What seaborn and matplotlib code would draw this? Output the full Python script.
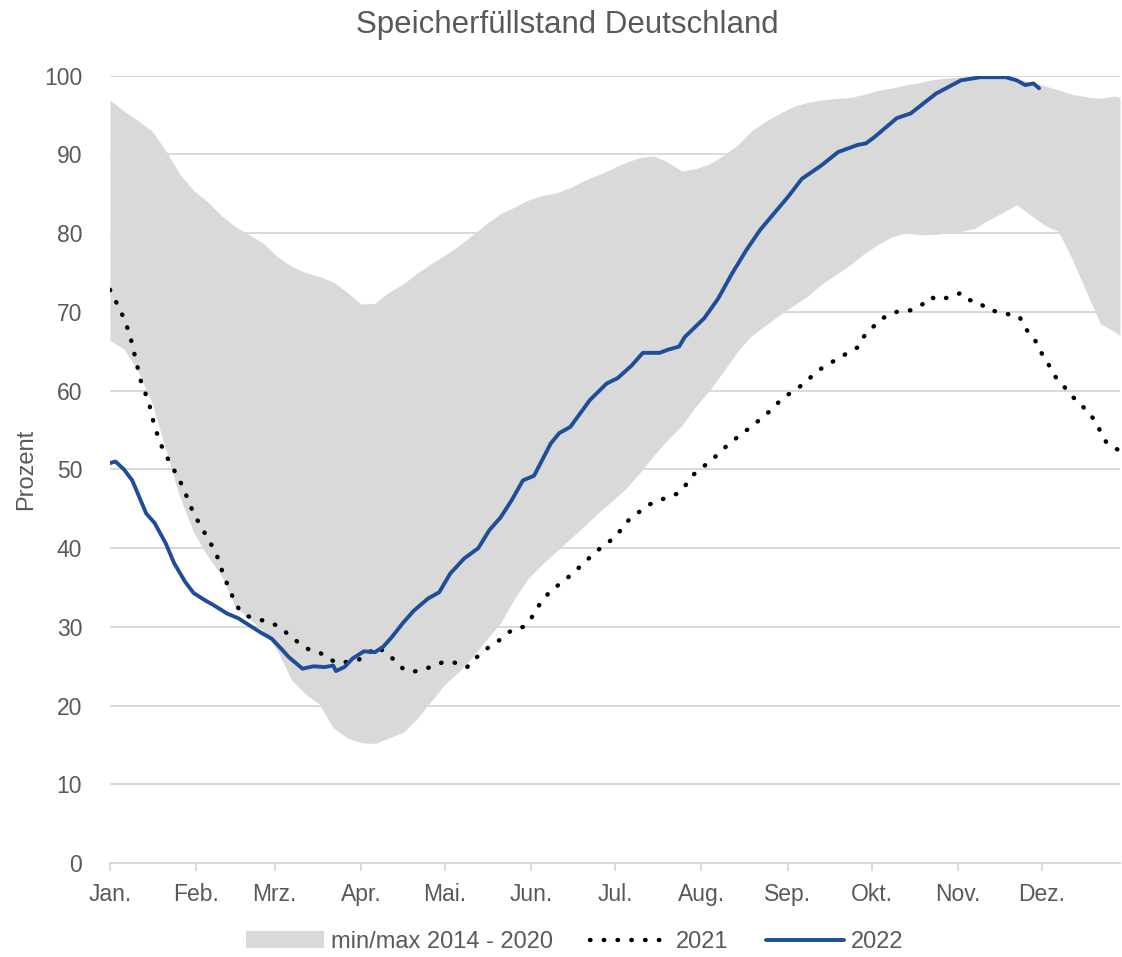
import matplotlib
matplotlib.use("Agg")
import matplotlib.pyplot as plt
import seaborn as sns
import pandas as pd

# day of year (0 = 1 Jan)
month_starts = [0, 31, 59, 90, 120, 151, 181, 212, 243, 273, 304, 334]
month_labels = ["Jan.", "Feb.", "Mrz.", "Apr.", "Mai.", "Jun.", "Jul.", "Aug.",
                "Sep.", "Okt.", "Nov.", "Dez."]

# min/max band 2014 - 2020
band_days = [0, 5, 10, 15, 20, 25, 30, 35, 40, 45, 50, 55, 60, 65, 70, 75, 80, 85,
             90, 95, 100, 105, 110, 115, 120, 125, 130, 135, 140, 145, 150, 155,
             160, 165, 170, 175, 180, 185, 190, 195, 200, 205, 210, 215, 220, 225,
             230, 235, 240, 245, 250, 255, 260, 265, 270, 275, 280, 285, 290, 295,
             300, 305, 310, 315, 320, 325, 330, 335, 340, 345, 350, 355, 360, 362]
band_max = [96.9, 95.5, 94.3, 93.0, 90.5, 87.5, 85.4, 84.0, 82.2, 80.8, 79.8, 78.7,
            77.0, 75.8, 75.0, 74.5, 73.8, 72.5, 71.0, 71.1, 72.5, 73.5, 74.9, 76.1,
            77.2, 78.4, 79.8, 81.2, 82.5, 83.3, 84.2, 84.8, 85.1, 85.8, 86.7, 87.4,
            88.2, 89.0, 89.6, 89.8, 89.0, 87.9, 88.2, 88.8, 89.9, 91.2, 93.0, 94.2,
            95.2, 96.1, 96.6, 96.9, 97.1, 97.2, 97.6, 98.1, 98.4, 98.8, 99.1, 99.5,
            99.7, 99.8, 99.9, 99.9, 99.8, 99.6, 99.2, 98.7, 98.2, 97.6, 97.3, 97.1,
            97.4, 97.2]
band_min = [66.4, 65.3, 62.5, 58.5, 52.5, 46.5, 42.0, 39.0, 36.5, 32.5, 31.0, 29.5,
            27.0, 23.3, 21.5, 20.2, 17.2, 15.9, 15.3, 15.2, 15.9, 16.6, 18.3, 20.5,
            22.7, 24.3, 26.2, 28.4, 30.5, 33.6, 36.2, 38.0, 39.6, 41.2, 42.8, 44.5,
            46.0, 47.6, 49.6, 51.8, 53.8, 55.6, 58.0, 60.1, 62.5, 65.0, 67.0, 68.3,
            69.6, 70.8, 72.0, 73.5, 74.7, 75.9, 77.3, 78.5, 79.5, 80.0, 79.8, 79.8,
            80.0, 80.2, 80.6, 81.7, 82.6, 83.6, 82.3, 81.0, 80.2, 76.6, 72.5, 68.5,
            67.5, 67.0]

# 2021
days_2021 = [0, 4, 7, 9, 11, 14, 16, 19, 25, 27, 30, 34, 38, 41, 44, 46, 49, 57,
             61, 64, 68, 71, 75, 78, 82, 89, 96, 99, 102, 105, 108, 112, 116, 120,
             125, 128, 131, 134, 138, 141, 144, 148, 151, 153, 156, 158, 162, 168,
             174, 181, 186, 193, 200, 204, 207, 209, 216, 222, 229, 235, 241, 248,
             254, 261, 268, 270, 273, 276, 280, 284, 287, 291, 294, 297, 301, 305,
             308, 311, 315, 319, 323, 326, 328, 331, 333, 335, 337, 339, 342, 345,
             348, 350, 353, 355, 357, 360, 362]
fill_2021 = [72.8, 70.0, 67.3, 64.3, 61.3, 58.4, 55.4, 52.5, 48.6, 47.0, 44.4, 41.9,
             39.4, 36.3, 33.8, 32.4, 31.4, 30.6, 30.0, 29.0, 27.9, 27.2, 26.8, 26.0,
             25.4, 25.8, 27.5, 26.6, 25.8, 24.7, 24.3, 24.5, 25.1, 25.6, 25.4, 24.9,
             26.0, 27.0, 27.9, 28.7, 29.6, 30.0, 31.1, 32.4, 33.7, 34.7, 35.6, 37.5,
             39.5, 41.4, 43.6, 45.5, 46.5, 47.0, 48.3, 49.3, 51.3, 53.3, 55.2, 56.9,
             59.0, 60.7, 62.6, 64.1, 65.5, 66.8, 67.9, 69.0, 69.8, 70.2, 70.2, 70.9,
             71.9, 71.5, 71.9, 72.4, 71.5, 71.3, 70.2, 70.0, 69.6, 69.4, 67.9, 66.8,
             65.4, 64.0, 63.0, 61.7, 60.5, 59.2, 58.4, 57.3, 56.3, 54.8, 53.5, 52.7,
             52.4]

# 2022
days_2022 = [0, 2, 5, 8, 13, 16, 20, 23, 27, 30, 34, 37, 42, 46, 50, 54, 58, 62,
             64, 69, 73, 77, 80, 81, 84, 87, 91, 95, 98, 101, 105, 109, 114, 118,
             122, 127, 132, 136, 140, 144, 148, 152, 158, 161, 165, 172, 178, 182,
             187, 191, 197, 200, 204, 206, 213, 218, 223, 228, 233, 238, 243, 248,
             255, 261, 268, 271, 274, 282, 287, 296, 305, 312, 321, 325, 328, 331,
             333]
fill_2022 = [50.8, 51.0, 50.0, 48.6, 44.4, 43.2, 40.6, 38.1, 35.7, 34.3, 33.4, 32.8,
             31.7, 31.1, 30.2, 29.3, 28.5, 27.0, 26.2, 24.7, 25.0, 24.9, 25.1, 24.4,
             24.9, 26.0, 26.9, 26.8, 27.5, 28.7, 30.5, 32.1, 33.6, 34.4, 36.8, 38.7,
             40.0, 42.3, 43.9, 46.1, 48.6, 49.2, 53.3, 54.6, 55.4, 58.8, 60.9, 61.6,
             63.2, 64.8, 64.8, 65.2, 65.6, 66.8, 69.2, 71.7, 74.9, 77.8, 80.4, 82.5,
             84.6, 86.9, 88.6, 90.3, 91.2, 91.4, 92.2, 94.6, 95.2, 97.7, 99.4, 99.8,
             99.8, 99.4, 98.8, 99.0, 98.4]

sns.set_theme(style="white")
plt.rcParams['font.family'] = ['Liberation Sans', 'DejaVu Sans']
text_col = "#595959"
grid_col = "#d9d9d9"

df21 = pd.DataFrame({"Tag": days_2021, "Prozent": fill_2021})
df22 = pd.DataFrame({"Tag": days_2022, "Prozent": fill_2022})

fig = plt.figure(figsize=(11.22, 9.57), dpi=100)
ax = fig.add_axes([0.098, 0.098, 0.9002, 0.823])

ax.fill_between(band_days, band_min, band_max, color="#d9d9d9", linewidth=0,
                label="min/max 2014 - 2020", zorder=1)
sns.lineplot(data=df21, x="Tag", y="Prozent", ax=ax, color="black", linewidth=3.2,
             linestyle=(0, (0.1, 3.0)), dash_capstyle="round", label="2021", zorder=3)
sns.lineplot(data=df22, x="Tag", y="Prozent", ax=ax, color="#1F4E99", linewidth=2.8,
             label="2022", zorder=4)

ax.set_xlim(0, 362)
ax.set_ylim(0, 100)
ax.set_yticks(range(0, 101, 10))
ax.set_xticks(month_starts)
ax.set_xticklabels(month_labels)
ax.yaxis.grid(True, color=grid_col, linewidth=1.4)
ax.set_axisbelow(True)
for s in ["top", "right", "left"]:
    ax.spines[s].set_visible(False)
ax.spines["bottom"].set_color(grid_col)
ax.spines["bottom"].set_linewidth(1.4)
ax.tick_params(axis="x", bottom=True, length=6, width=1.4, color=grid_col,
               labelsize=16.5, labelcolor=text_col, pad=8)
ax.tick_params(axis="y", left=False, labelsize=16.5, labelcolor=text_col, pad=14)

ax.set_xlabel("")
ax.set_ylabel("Prozent", fontsize=17, color=text_col, labelpad=5)
fig.suptitle("Speicherfüllstand Deutschland", fontsize=22.5, color=text_col,
             x=0.506, y=0.99, va="top")

ax.get_legend().remove()
h, l = ax.get_legend_handles_labels()
fig.legend(h, l, loc="lower center", bbox_to_anchor=(0.512, -0.018), ncol=3,
           frameon=False, fontsize=17, labelcolor=text_col, handlelength=3.3,
           handletextpad=0.3, columnspacing=1.6)

fig.savefig("out.png", dpi=100)
